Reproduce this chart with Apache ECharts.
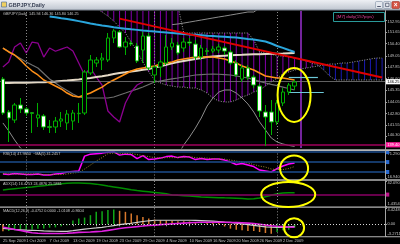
<!DOCTYPE html>
<html><head><meta charset="utf-8">
<script src="https://cdn.jsdelivr.net/npm/echarts@6/dist/echarts.min.js"></script>
<style>html,body{margin:0;padding:0;background:#000;overflow:hidden}#c{width:400px;height:244px}</style>
</head><body><div id="c"></div>
<script>
// ---------- data ----------
const dates = ['25 Sep 2009','28 Sep 2009','29 Sep 2009','30 Sep 2009','1 Oct 2009','2 Oct 2009','5 Oct 2009','6 Oct 2009','7 Oct 2009','8 Oct 2009',
'9 Oct 2009','12 Oct 2009','13 Oct 2009','14 Oct 2009','15 Oct 2009','16 Oct 2009','19 Oct 2009','20 Oct 2009','21 Oct 2009','22 Oct 2009',
'23 Oct 2009','26 Oct 2009','27 Oct 2009','28 Oct 2009','29 Oct 2009','30 Oct 2009','2 Nov 2009','3 Nov 2009','4 Nov 2009','5 Nov 2009',
'6 Nov 2009','9 Nov 2009','10 Nov 2009','11 Nov 2009','12 Nov 2009','13 Nov 2009','16 Nov 2009','17 Nov 2009','18 Nov 2009','19 Nov 2009',
'20 Nov 2009','23 Nov 2009','24 Nov 2009','25 Nov 2009','26 Nov 2009','27 Nov 2009','30 Nov 2009','1 Dec 2009','2 Dec 2009','3 Dec 2009',
'4 Dec 2009','7 Dec 2009','8 Dec 2009','9 Dec 2009','10 Dec 2009','11 Dec 2009','14 Dec 2009','15 Dec 2009','16 Dec 2009','17 Dec 2009',
'18 Dec 2009','21 Dec 2009','22 Dec 2009','23 Dec 2009','24 Dec 2009','25 Dec 2009'];

const opens  = [146.54,142.96,142.09,143.72,143.29,142.88,142.31,142.53,141.36,141.33,141.98,141.77,141.98,142.78,142.85,147.20,148.28,148.61,148.61,151.00,
151.65,150.02,150.45,150.13,149.69,151.21,146.98,147.85,148.28,150.02,150.24,149.91,150.56,150.34,148.93,149.60,149.58,149.69,149.91,149.48,
148.28,146.54,147.74,146.76,145.78,142.96,142.96,141.88,143.94,145.13,145.78];
const highs  = [146.76,143.18,143.94,144.48,143.50,142.96,143.94,142.74,142.09,142.42,142.96,143.18,143.18,143.94,147.52,149.15,148.93,149.37,151.54,151.97,
151.86,151.10,150.67,150.45,151.65,151.54,148.06,148.61,151.32,151.00,150.56,151.00,151.00,150.78,150.24,149.91,150.13,150.34,150.13,149.69,
148.61,148.06,148.06,146.98,146.00,143.72,144.26,144.26,145.56,146.11,146.43];
const lows   = [142.64,139.70,141.77,142.85,142.53,140.68,141.33,141.01,140.68,140.68,141.33,141.01,141.01,141.77,142.64,146.98,147.85,147.52,148.39,150.45,
149.91,149.15,150.13,148.28,148.28,147.52,146.11,146.76,148.06,149.69,149.15,149.48,150.13,148.61,148.61,149.15,149.37,149.37,149.15,148.06,
146.76,146.22,146.43,145.56,142.42,139.27,140.46,141.55,143.61,144.81,145.35];
const closes = [142.85,142.31,143.72,143.29,142.85,142.82,142.64,141.33,141.30,141.98,142.20,142.74,142.85,142.82,147.30,148.61,148.61,148.82,151.00,151.76,
150.02,150.56,150.34,148.50,151.21,147.74,147.85,148.39,150.02,150.45,149.37,150.56,150.45,148.93,149.91,149.56,149.80,150.02,149.58,148.28,
146.98,147.74,146.76,145.89,143.07,142.42,141.88,143.94,145.13,145.89,146.22];

const maOrange = [149.91,149.48,149.15,148.61,147.96,147.41,146.98,146.44,146.11,145.78,145.46,145.02,144.70,144.59,144.81,145.02,145.35,145.67,146.11,146.44,
146.76,147.09,147.41,147.63,147.74,147.85,147.96,148.17,148.28,148.39,148.61,148.72,148.82,148.93,148.93,148.93,148.93,148.82,148.72,148.50,
148.28,147.96,147.74,147.52,147.20,146.87,146.76,146.65,146.65,146.54,146.44];
const maCream = [146.11,146.12,146.13,146.14,146.15,146.16,146.18,146.20,146.23,146.26,146.33,146.38,146.44,146.50,146.58,146.65,146.75,146.85,146.96,147.08,
147.20,147.28,147.37,147.45,147.54,147.63,147.78,147.93,148.08,148.24,148.39,148.50,148.61,148.72,148.83,148.93,148.98,149.03,149.08,149.12,
149.15,149.17,149.20,149.22,149.24,149.26,149.28,149.30,149.32,149.35,149.37];
const maCyan = [null,null,null,null,null,null,null,null,153.33,153.24,153.14,153.05,152.95,152.83,152.71,152.58,152.46,152.36,152.27,152.17,
152.08,152.01,151.94,151.88,151.81,151.75,151.70,151.64,151.59,151.54,151.49,151.43,151.38,151.34,151.30,151.25,151.21,151.17,151.13,151.09,
151.05,150.98,150.90,150.83,150.73,150.62,150.40,150.13,149.92,149.69,149.48];
const maGrey = [149.91,149.53,149.15,148.77,148.39,148.06,147.74,147.14,146.54,146.10,145.67,145.30,144.92,144.59,144.48,144.48,144.48,144.48,144.48,144.59,
144.81,145.02,145.24,145.45,145.67,145.95,146.22,146.33,146.44,146.55,146.65,146.76,146.87,146.98,147.02,147.06,147.09,147.06,147.02,146.98,
146.87,146.76,146.65,146.47,146.29,146.11,145.96,145.82,145.67,145.51,145.35];
const bbUpper = [null,null,null,null,null,null,null,null,null,null,null,null,null,null,null,null,null,null,null,null,
null,null,null,null,null,null,null,null,null,152.45,152.52,152.62,152.73,152.84,152.95,153.06,153.17,153.28,153.38,153.49,
153.60,153.71,153.82,153.82,154.25,154.90,null,null,null,null,null];
const bbLower = [141.77,140.90,139.92,139.05,138.50,null,null,null,null,null,null,null,null,null,null,null,null,null,null,null,
null,null,null,null,null,null,null,null,null,137.50,138.30,139.38,140.25,141.22,142.31,143.61,144.48,145.13,145.35,145.35,
145.02,144.48,143.83,142.96,141.88,141.01,140.14,139.70,139.49,139.33,139.22];
const spanA = [null,null,null,null,null,null,null,null,null,null,null,null,null,null,null,null,154.25,153.82,153.38,152.84,
152.19,151.54,150.56,149.48,148.39,147.30,146.44,146.11,145.89,145.78,145.67,145.67,145.57,145.57,145.35,145.02,144.48,144.16,144.05,144.05,
144.26,144.59,144.81,145.13,145.35,145.78,146.22,146.65,147.09,147.30,147.52,147.63,147.74,147.85,147.96,148.06,148.17,148.17,148.28,148.28,
148.39,148.50,148.61,148.72,148.82,148.82];
const spanB = [null,null,null,null,null,null,null,null,null,null,null,null,null,null,null,null,154.50,154.50,154.50,154.50,
154.50,154.50,154.50,154.50,154.50,154.50,154.50,154.50,154.50,154.50,154.50,151.54,151.54,151.54,151.54,151.54,151.54,151.54,151.54,151.54,
151.54,151.54,151.54,150.78,149.48,149.37,149.26,149.04,149.04,148.93,148.82,148.72,148.50,148.28,148.06,147.52,146.87,146.44,146.44,146.44,
146.44,146.44,146.44,146.44,146.44,146.44];

const rsi   = [26,25,27,26,25,25,26,24,24,26,27,30,31,32,62,66,67,68,70,71,64,66,65,57,63,55,56,58,61,62,59,61,60,55,57,55,56,56,54,50,45,47,44,41,34,32,30,37,42,46,48];
const rsiMa = [27,26,26,26,26,26,26,25,25,25,25,26,28,29,36,44,52,59,67,68,67,67,67,65,63,61,59,58,59,59,59,60,61,59,58,58,57,56,56,54,52,50,48,45,42,40,36,35,35,37,41];
const adx = [27.5,28.5,29.5,30.5,31.5,32.3,33.5,34.5,35.5,36.5,37.5,38.5,38.8,38.8,38.5,38,37,35.6,34,32.5,31,29.5,27.8,26.5,25.5,24.5,23.5,22.5,21.5,19.5,
18.8,18.2,17.6,17,16.2,15.8,15.4,15,14.7,14.5,14,13.5,13,13.2,14.5,16.5,19,21.5,22.5,22.8,23];
const macdHist = [-1.90,-1.84,-1.65,-1.60,-1.47,-1.40,-1.19,-1.12,-0.92,-0.85,-0.55,-0.30,1.00,1.55,1.83,2.47,3.40,3.57,3.85,4.03,
3.66,3.38,2.93,2.47,2.00,1.56,1.28,1.10,1.00,0.95,0.85,0.80,0.75,0.60,0.62,0.50,0.45,0.40,-0.60,-1.19,
-1.47,-1.65,-1.84,-1.86,-2.10,-2.38,-2.56,-2.10,-1.65,-1.47,-0.92];
const macdMagenta = [-0.8,-1.1,-1.4,-1.7,-2.0,-2.3,-2.45,-2.5,-2.5,-2.5,-2.5,-2.45,-2.35,-2.2,-2.15,-2.1,-2.0,-1.9,-1.65,-1.4,
-1.15,-0.95,-0.8,-0.65,-0.48,-0.3,-0.25,-0.1,0.0,0.1,0.2,0.3,0.4,0.5,0.55,0.55,0.55,0.55,0.55,0.5,
0.45,0.4,0.3,0.2,0.0,-0.2,-0.4,-0.55,-0.65,-0.75,-0.82];
const macdWhite = [-1.1,-1.25,-1.4,-1.5,-1.6,-1.65,-1.7,-1.8,-1.85,-1.9,-1.92,-1.92,-1.75,-1.5,-1.3,-1.15,-1.0,-0.82,-0.6,-0.35,
-0.1,0.1,0.27,0.5,0.75,0.95,1.1,1.1,1.1,1.1,1.1,1.1,1.1,1.05,1.0,0.95,0.85,0.75,0.6,0.5,
0.3,0.1,-0.1,-0.3,-0.5,-0.7,-0.8,-0.82,-0.82,-0.7,-0.55];

const priceTicks = [140.30,141.55,142.80,144.05,145.35,146.60,147.85,149.05,150.40,151.65,152.95];
const priceRange = [139.05,153.93];
const rsiRange = [16.9402,71.2905];
const rsiLevels = [70,50,30];
const adxRange = [1.4354,42.0905];
const adxLevel = 20;
const macdRange = [-3.2711,4.4248];
const bidPrice = 146.25;
const alertLevel = 139.40;
const vLineDate = '7 Dec 2009';
const redTrend = [['23 Oct 2009',153.10],['25 Dec 2009',146.70]];
const cyanLevels = [['3 Dec 2009','10 Dec 2009',146.76],['3 Dec 2009','11 Dec 2009',145.13]];

// ---------- build ----------
const FONT = 'Liberation Sans';
const TXT = '#c4c4c4';
const nBars = closes.length;
const month = d => d.split(' ')[1];
const sepIdx = dates.map((d,i)=>i).filter(i=>i>0 && i<nBars && month(dates[i])!==month(dates[i-1]));
const showLab = (i)=> i%4===0 && i<nBars;
const chikou = dates.map((d,i)=> (i+26<nBars) ? closes[i+26] : null);
const candleData = opens.map((o,i)=>[o, closes[i], lows[i], highs[i]]);
const hatchData = [];
dates.forEach((d,i)=>{ if(spanA[i]!=null && spanB[i]!=null) hatchData.push([i, spanA[i], spanB[i]]); });

const chart = echarts.init(document.getElementById('c'), null, {width:400,height:244});

const gridDefs = [[11,137],[151.5,27],[181,25],[208,28.3]];
const grid = gridDefs.map(g=>({left:0,right:15,top:g[0],height:g[1],containLabel:false,outerBoundsMode:'none'}));
const xAxis = gridDefs.map((g,k)=>({type:'category',gridIndex:k,data:dates,boundaryGap:true,
  axisLine:{show:false},axisTick:{show:false},axisLabel:{show:false},splitLine:{show:false}}));
xAxis[3].axisTick = {show:true,interval:showLab,alignWithLabel:true,length:2,lineStyle:{color:TXT,width:0.8}};
xAxis[3].axisLabel = {show:true,interval:showLab,color:TXT,fontSize:4,fontFamily:FONT,align:'left',margin:2.2};

function yAx(k,range,ticks,fmt){
  return {type:'value',gridIndex:k,position:'right',min:range[0],max:range[1],scale:true,
    splitLine:{show:false},axisLine:{show:false},
    axisTick:{show:true,length:2,lineStyle:{color:TXT,width:0.8},customValues:ticks},
    axisLabel:{show:true,color:TXT,fontSize:4,fontFamily:FONT,margin:2.5,customValues:ticks,formatter:fmt,
      verticalAlignMaxLabel:'top',verticalAlignMinLabel:'bottom'}};
}
const yAxis = [
  yAx(0,priceRange,priceTicks,v=>v.toFixed(2)),
  yAx(1,rsiRange,rsiRange,v=>v.toFixed(4)),
  yAx(2,adxRange,adxRange,v=>v.toFixed(4)),
  yAx(3,macdRange,[macdRange[0],0,macdRange[1]],v=>v===0?'0.00':v.toFixed(4))
];

const sepLines = sepIdx.map(i=>({xAxis:i,lineStyle:{color:'#8a8a8a',width:1,type:[1,2]},label:{show:false}}));
function line(k,data,color,width,type,z){
  return {type:'line',xAxisIndex:k,yAxisIndex:k,data:data,symbol:'none',showSymbol:false,silent:true,
    connectNulls:false,lineStyle:{color:color,width:width,type:type||'solid'},z:z||2};
}
const boxLabel = (txt,bg,fg)=>({show:true,position:'end',distance:1,formatter:txt,backgroundColor:bg,color:fg,
  fontSize:4,fontFamily:FONT,padding:[0.6,1.2]});

const series = [
  {type:'custom',xAxisIndex:0,yAxisIndex:0,clip:true,silent:true,z:1,data:hatchData,encode:{x:0,y:[1,2]},
    renderItem:function(params,api){
      const i=api.value(0),a=api.value(1),b=api.value(2);
      const p1=api.coord([i,a]),p2=api.coord([i,b]);
      return {type:'line',shape:{x1:p1[0],y1:p1[1],x2:p2[0],y2:p2[1]},
        style:{stroke:a<b?'#8400ac':'#1a1ab4',lineWidth:1}};
    }},
  line(0,spanA,'#9c9c9c',1,[1,1.5]),
  line(0,spanB,'#9c9c9c',1,[1,1.5]),
  line(0,bbUpper,'#8c8c8c',1),
  line(0,bbLower,'#8c8c8c',1),
  line(0,maGrey,'#6e6e6e',1.2),
  line(0,chikou,'#8c0090',1.3),
  line(0,maCream,'#e4d9c6',2),
  line(0,maOrange,'#ff9018',1.5),
  line(0,maCyan,'#2aa6dc',2),
  {type:'candlestick',xAxisIndex:0,yAxisIndex:0,data:candleData,barWidth:4,silent:true,z:5,
    itemStyle:{color:'#000000',color0:'#ffffff',borderColor:'#00b000',borderColor0:'#00b000',borderWidth:1},
    markLine:{silent:true,symbol:['none','none'],animation:false,
      data:[...sepLines,
        {xAxis:dates.indexOf(vLineDate),lineStyle:{color:'#9a30d0',width:1.5,type:'solid'},label:{show:false}},
        {yAxis:bidPrice,lineStyle:{color:'#7a7a7a',width:0.8,type:'solid'},label:boxLabel(bidPrice.toFixed(2),'#ffffff','#000000')},
        {yAxis:alertLevel,lineStyle:{color:'#a0005c',width:1.5,type:'solid'},label:boxLabel(alertLevel.toFixed(2),'#ff1a9c','#ffffff')}
      ]}},
  Object.assign(line(0,redTrend,'#e00000',2,'solid',6),{
    markLine:{silent:true,symbol:['none','none'],animation:false,label:{show:false},
      data:cyanLevels.map(c=>[{coord:[c[0],c[2]],lineStyle:{color:'#6cc8d8',width:1.2,type:'solid'}},{coord:[c[1],c[2]]}])}}),
  // RSI
  Object.assign(line(1,rsi,'#ff00ff',1.5,'solid',3),{
    markLine:{silent:true,symbol:['none','none'],animation:false,
      data:[...sepLines,...rsiLevels.map(v=>({yAxis:v,lineStyle:{color:'#1d4c8c',width:1.5,type:'solid'},
        label:{show:true,position:'end',distance:1,formatter:'\u2007',backgroundColor:'#2a6ad0',color:'#2a6ad0',fontSize:3,padding:[0.5,0.8]}}))]}}),
  line(1,rsiMa,'#a08c2c',1,[1,1.5],4),
  // ADX
  Object.assign(line(2,adx,'#008c00',1.5,'solid',3),{
    markLine:{silent:true,symbol:['none','none'],animation:false,
      data:[...sepLines,{yAxis:adxLevel,lineStyle:{color:'#8a0064',width:1.5,type:'solid'},
        label:{show:true,position:'end',distance:1,formatter:'\u2007',backgroundColor:'#c0148c',color:'#c0148c',fontSize:3,padding:[0.5,0.8]}}]}}),
  // MACD
  {type:'bar',xAxisIndex:3,yAxisIndex:3,data:macdHist,barWidth:1.5,silent:true,z:2,
    itemStyle:{color:function(p){const i=p.dataIndex;return (i>0 && macdHist[i]>=macdHist[i-1])?'#10a818':'#d8782c';}},
    markLine:{silent:true,symbol:['none','none'],animation:false,
      data:[...sepLines,{yAxis:0,lineStyle:{color:'#d8d8d8',width:1,type:[1,2]},label:{show:false}}]}},
  line(3,macdWhite,'#cfcfcf',1.2,'solid',3),
  line(3,macdMagenta,'#e020e0',1.6,'solid',4)
];

chart.setOption({backgroundColor:'#000000',animation:false,grid,xAxis,yAxis,series});

// ---------- decorations ----------
const px = (k,x,y)=>chart.convertToPixel({xAxisIndex:k,yAxisIndex:k},[x,y]);
const ell = [[0,50,144.81,16.5,27],[1,50,37.1,14,13],[2,49,20.1,27,12.5],[3,50,-0.93,10,9.5]].map((e,j)=>{
  const p=px(e[0],e[1],e[2]);
  return {type:'ellipse',id:'el'+j,z:200,silent:true,shape:{cx:p[0]-0.5,cy:p[1],rx:e[3],ry:e[4]},
    style:{fill:'none',stroke:'#ffff00',lineWidth:2}};
});
const sep = (y,h)=>({type:'rect',silent:true,z:150,shape:{x:0,y:y,width:400,height:h},style:{fill:'#b4b4b4'}});
const txt = (x,y,t,size,fill,weight)=>({type:'text',silent:true,z:160,x:x,y:y,
  style:{text:t,fill:fill||TXT,font:(weight||'normal')+' '+size+'px "'+FONT+'"',textVerticalAlign:'middle',verticalAlign:'middle'}});
const graphic = [
  {type:'rect',silent:true,z:150,shape:{x:0,y:0,width:400,height:10},
    style:{fill:new echarts.graphic.LinearGradient(0,0,0,1,[{offset:0,color:'#eef0f4'},{offset:1,color:'#bfc6d0'}])}},
  {type:'rect',silent:true,z:151,shape:{x:0,y:9.5,width:400,height:1},style:{fill:'#7c8490'}},
  {type:'rect',silent:true,z:152,shape:{x:1.5,y:2,width:5,height:5},style:{fill:'#f0d060',stroke:'#406090',lineWidth:0.6}},
  txt(8.5,5,'GBPJPY,Daily',5.5,'#3a4256','bold'),
  {type:'rect',silent:true,z:152,shape:{x:375.5,y:1.5,width:7,height:7,r:1},style:{fill:'#e4e8ee',stroke:'#8290a4',lineWidth:0.6}},
  {type:'rect',silent:true,z:152,shape:{x:383.7,y:1.5,width:7,height:7,r:1},style:{fill:'#e4e8ee',stroke:'#8290a4',lineWidth:0.6}},
  {type:'rect',silent:true,z:152,shape:{x:391.9,y:1.5,width:7.6,height:7,r:1},style:{fill:'#d65444',stroke:'#9c3024',lineWidth:0.6}},
  {type:'rect',silent:true,z:153,shape:{x:377.2,y:6,width:3.6,height:0.9},style:{fill:'#404860'}},
  {type:'rect',silent:true,z:153,shape:{x:385.6,y:3.2,width:3.4,height:3.4},style:{fill:'none',stroke:'#404860',lineWidth:0.7}},
  txt(393.8,5.1,'×',6.5,'#ffffff','bold'),
  sep(149.3,1.7), sep(179.2,1.5), sep(206.4,1.3), sep(236.3,1),
  {type:'rect',silent:true,z:150,shape:{x:385,y:10,width:1,height:226.5},style:{fill:'#a4a4a4'}},
  txt(3,13.6,'GBPJPY,Daily  145.94 146.36 145.80 146.25',3.8),
  txt(3,154.2,'RSI(14) 47.9850  ~MA(5) 41.2457',3.8),
  txt(3,183.6,'ADX(14) 16.4753 24.4876 25.5861',3.8),
  txt(3,210.8,'MACD(12,26,9) -0.4752 0.0000 -1.0108 -0.8604',3.8),
  {type:'rect',silent:true,z:160,shape:{x:333.5,y:12.5,width:51,height:9},style:{fill:'none',stroke:'#2a9a9a',lineWidth:1}},
  txt(336.5,17,'[M7] daily(157pips)',4.4,'#e4409c'),
  ...ell
];
chart.setOption({graphic});
</script>
</body></html>
